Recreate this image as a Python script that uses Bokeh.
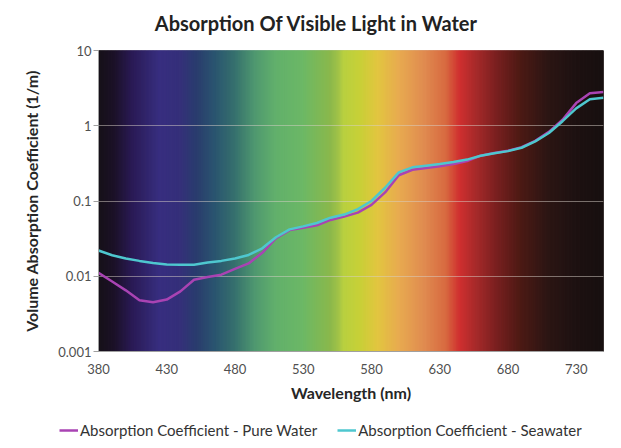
import numpy as np
from bokeh.plotting import figure
from bokeh.layouts import column
from bokeh.models import Legend, LegendItem, FixedTicker, Range1d, Label
from bokeh.embed import file_html
from bokeh.resources import INLINE

# ---- data ----
wavelength = [380, 390, 400, 410, 420, 430, 440, 450, 460, 470, 480, 490, 500, 510,
              520, 530, 540, 550, 560, 570, 580, 590, 600, 610, 620, 630, 640, 650,
              660, 670, 680, 690, 700, 710, 720, 730, 740, 750]
pure_water = [0.0111, 0.0085, 0.0065, 0.0048, 0.0045, 0.0049, 0.0063, 0.0090, 0.0098,
              0.0105, 0.0125, 0.0148, 0.0205, 0.0320, 0.0410, 0.0440, 0.0475, 0.0560,
              0.0620, 0.0700, 0.0890, 0.1300, 0.2200, 0.2600, 0.2750, 0.2900, 0.3100,
              0.3400, 0.4000, 0.4350, 0.4650, 0.5200, 0.6300, 0.8300, 1.2000, 2.0000,
              2.7000, 2.8000]
seawater = [0.0220, 0.0190, 0.0172, 0.0160, 0.0150, 0.0143, 0.0142, 0.0142, 0.0152,
            0.0160, 0.0172, 0.0192, 0.0235, 0.0330, 0.0420, 0.0460, 0.0510, 0.0600,
            0.0660, 0.0780, 0.1000, 0.1500, 0.2400, 0.2800, 0.2950, 0.3100, 0.3300,
            0.3550, 0.4000, 0.4300, 0.4600, 0.5100, 0.6200, 0.8000, 1.1500, 1.7000,
            2.2500, 2.3500]
series_names = ["Absorption Coefficient - Pure Water", "Absorption Coefficient - Seawater"]
series_colors = ["#a943b3", "#4ec7cf"]
x_ticks = [380, 430, 480, 530, 580, 630, 680, 730]
y_ticks = [0.001, 0.01, 0.1, 1, 10]
y_tick_labels = ["0.001", "0.01", "0.1", "1", "10"]
title_text = "Absorption Of Visible Light in Water"

# background spectrum colour stops
spectrum_nm = [380, 392, 405, 425, 440, 452, 465, 480, 495, 510, 530, 550, 556, 560,
               572, 585, 600, 620, 635, 645, 658, 672, 690, 710, 730, 750]
spectrum_hex = ["#161118", "#1c1228", "#2a1a55", "#382e80", "#35307a", "#2a3c6e",
                "#2a5470", "#36706e", "#4f9870", "#62b06c", "#6cb866", "#8ab84c",
                "#a0c248", "#b8d040", "#c8d038", "#e2c640", "#e8ac50", "#e08a50",
                "#d86a40", "#d03030", "#a42a2a", "#7a2020", "#4c1a14", "#2c1614",
                "#1e1212", "#181010"]

FONT = "Lato"


def strip(h):
    f = figure(width=613, height=h, output_backend="svg", toolbar_location=None,
               x_range=Range1d(0, 1), y_range=Range1d(0, 1),
               min_border=0, min_border_left=0, min_border_right=0,
               min_border_top=0, min_border_bottom=0)
    f.frame_align = False
    f.axis.visible = False
    f.grid.visible = False
    f.outline_line_color = None
    return f


# title strip
tt = strip(36)
tt.add_layout(Label(x=316, y=14, x_units="screen", y_units="screen", text=title_text,
                    text_align="center", text_baseline="middle", text_font=FONT,
                    text_font_size="20px", text_font_style="bold", text_color="#222222"))

p = figure(width=613, height=368, x_range=Range1d(380, 750), y_range=Range1d(0.001, 10),
           y_axis_type="log", output_backend="svg", toolbar_location=None,
           min_border_left=98, min_border_right=10, min_border_top=14, min_border_bottom=48)
p.frame_align = False
p.background_fill_color = "white"
p.outline_line_color = "#c8c8c8"

# spectrum background
lam = np.arange(380, 751, 1)
rgb = np.array([[int(h[i:i + 2], 16) for i in (1, 3, 5)] for h in spectrum_hex], float)
cols = []
for l in lam:
    r = np.interp(l, spectrum_nm, rgb[:, 0])
    g = np.interp(l, spectrum_nm, rgb[:, 1])
    b = np.interp(l, spectrum_nm, rgb[:, 2])
    cols.append("#%02x%02x%02x" % (int(r), int(g), int(b)))
bg = p.quad(left=lam - 0.5, right=lam + 0.5, bottom=y_ticks[0], top=y_ticks[-1],
            fill_color=cols, line_color=cols, line_width=1.5)
bg.level = "image"

p.line(wavelength, pure_water, line_color=series_colors[0], line_width=2.5)
p.line(wavelength, seawater, line_color=series_colors[1], line_width=2.5)

# grid
p.xgrid.grid_line_color = None
p.ygrid.ticker = FixedTicker(ticks=y_ticks[1:-1])
p.ygrid.grid_line_color = "#d8d0c8"
p.ygrid.grid_line_alpha = 0.5
p.ygrid.grid_line_width = 1

# axes
p.yaxis.ticker = FixedTicker(ticks=y_ticks)
p.yaxis.major_label_overrides = {t: s for t, s in zip(y_ticks, y_tick_labels)}
p.xaxis.ticker = FixedTicker(ticks=x_ticks)
for ax in (p.xaxis, p.yaxis):
    ax.major_label_text_font = FONT
    ax.major_label_text_font_size = "13px"
    ax.major_label_text_color = "#505050"
    ax.axis_label_text_font = FONT
    ax.axis_label_text_font_style = "bold"
    ax.axis_label_text_color = "#262626"
    ax.minor_tick_line_color = None
    ax.axis_line_color = "#a0a0a0"
p.yaxis.axis_label = "Volume Absorption Coefficient (1/m)"
p.yaxis.axis_label_text_font_size = "16px"
p.yaxis.major_tick_line_color = "#a0a0a0"
p.yaxis.major_tick_out = 5
p.yaxis.major_tick_in = 0
p.yaxis.major_label_standoff = 2
p.yaxis.axis_label_standoff = 14
p.xaxis.axis_label = "Wavelength (nm)"
p.xaxis.axis_label_text_font_size = "16px"
p.xaxis.major_tick_line_color = None
p.xaxis.major_label_standoff = 6
p.xaxis.axis_label_standoff = 6

# legend strip below the chart
lg = strip(36)
items = []
for name, c, vals in zip(series_names, series_colors, [pure_water, seawater]):
    rr = lg.line(wavelength, vals, line_color=c, line_width=2.5)  # out of range: legend host only
    items.append(LegendItem(label=name, renderers=[rr]))
legend = Legend(items=items, orientation="horizontal", location=(59, 1),
                label_text_font=FONT, label_text_font_size="15px", label_text_color="#333333",
                label_height=16, glyph_height=16,
                glyph_width=19, label_standoff=2, spacing=20, padding=0, margin=0,
                border_line_color=None, background_fill_alpha=0)
lg.add_layout(legend)

layout = column(tt, p, lg, spacing=0)
open("out.html", "w").write(file_html(layout, INLINE))
